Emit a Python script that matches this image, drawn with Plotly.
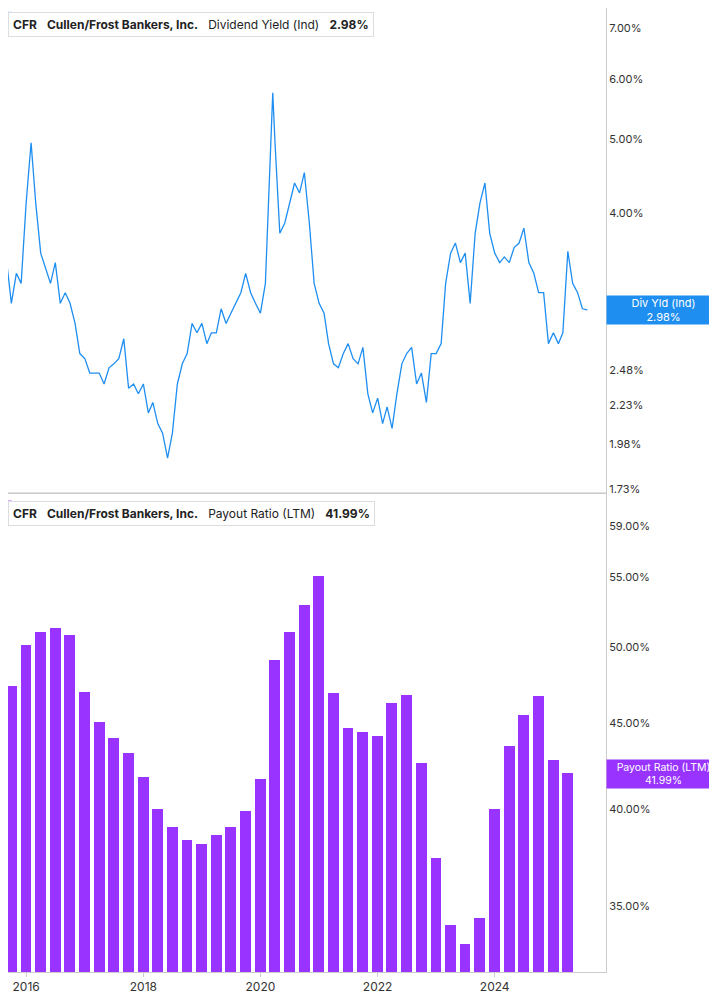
import pandas as pd
import plotly.graph_objects as go
from plotly.subplots import make_subplots
import math

# Dividend yield (%), monthly from 2015-08
yld_start = "2015-08-01"
yld_values = [2.95,3.46,3.04,3.33,3.23,4.12,4.95,4.12,3.54,3.38,3.23,3.44,3.04,3.14,3.04,2.86,2.61,2.57,2.46,2.46,
              2.46,2.38,2.50,2.53,2.57,2.73,2.35,2.38,2.31,2.38,2.18,2.25,2.11,2.05,1.90,2.05,2.38,2.53,2.61,2.86,
              2.78,2.86,2.69,2.78,2.78,2.99,2.86,2.95,3.04,3.14,3.33,3.14,3.04,2.95,3.23,4.80,4.95,3.76,3.88,4.12,
              4.38,4.25,4.52,3.88,3.23,3.04,2.95,2.69,2.53,2.50,2.61,2.69,2.57,2.53,2.66,2.31,2.18,2.28,2.11,2.22,
              2.08,2.31,2.53,2.61,2.66,2.38,2.46,2.25,2.61,2.61,2.69,3.23,3.54,3.65,3.44,3.54,3.04,3.76,4.12,4.38,
              3.76,3.54,3.44,3.50,3.44,3.60,3.65,3.82,3.44,3.33,3.14,3.14,2.69,2.78,2.69,2.78,3.56,3.23,3.14,2.99,2.98]
spike_date = "2020-03-18"
spike_value = 5.76

# Payout ratio (%), quarterly from 2015-09-30
pay_start = "2015-09-30"
pay_values = [47.4,50.1,51.0,51.3,50.8,47.0,45.1,44.1,43.2,41.8,40.0,39.0,38.3,38.1,38.6,39.0,39.9,41.7,49.1,51.0,
              53.0,55.1,46.9,44.7,44.5,44.2,46.3,46.8,42.6,37.4,34.1,33.2,34.4,40.0,43.6,45.5,46.7,42.8,42.0]

yld_ticks = [1.73,1.98,2.23,2.48,4.00,5.00,6.00,7.00,7.39]
pay_ticks = [35,40,45,50,55,59]
x_ticks = ["2016","2018","2020","2022","2024"]

yd = list(pd.date_range(yld_start, periods=len(yld_values), freq="MS"))
ys = list(yld_values)
idx = next(i for i, d in enumerate(yd) if d > pd.Timestamp(spike_date))
yd.insert(idx, pd.Timestamp(spike_date)); ys.insert(idx, spike_value)
pd_dates = pd.date_range(pay_start, periods=len(pay_values), freq="QE")

BLUE = "#1f8ef1"; PURP = "#9933ff"
fig = make_subplots(rows=2, cols=1, shared_xaxes=True, vertical_spacing=0)
fig.add_trace(go.Scatter(x=yd, y=ys, mode="lines", line=dict(color=BLUE, width=1.3), showlegend=False), 1, 1)
fig.add_trace(go.Bar(x=pd_dates, y=pay_values, marker=dict(color=PURP, line=dict(width=0)),
                     width=68*86400000, showlegend=False), 2, 1)
fs = dict(family="Inter, Roboto, sans-serif", size=11, color="#333")
fig.update_layout(width=709, height=997, margin=dict(l=0, r=111, t=0, b=33),
                  plot_bgcolor="white", paper_bgcolor="white", font=fs, bargap=0)
fig.update_yaxes(type="log", side="right", showgrid=False, ticks="", showline=True, linecolor="#ccc", mirror=False)
fig.update_yaxes(row=1, col=1, domain=[0.497, 1], range=[math.log10(1.71), math.log10(7.45)],
                 tickvals=yld_ticks, ticktext=[f"{v:.2f}%" for v in yld_ticks])
fig.update_yaxes(row=2, col=1, domain=[0, 0.497], range=[math.log10(31.95), math.log10(61.8)],
                 tickvals=pay_ticks, ticktext=[f"{v:.2f}%" for v in pay_ticks])
fig.update_xaxes(range=["2015-09-10", "2025-11-25"], showgrid=False, showline=True, linecolor="#ccc")
fig.update_xaxes(row=2, col=1, tickvals=[f"{t}-01-01" for t in x_ticks], ticktext=x_ticks,
                 tickfont=dict(size=12, color="#333"), ticks="outside", ticklen=4, tickcolor="#ccc")
fig.add_shape(type="line", xref="paper", yref="paper", x0=0, x1=1, y0=0.497, y1=0.497, line=dict(color="#ccc", width=1))

def header(y, txt, col):
    fig.add_annotation(xref="paper", yref="paper", x=0.0, y=y, xanchor="left", yanchor="top", align="left",
                       text=txt, showarrow=False, bgcolor="white", bordercolor="#ddd", borderwidth=1, borderpad=4,
                       font=dict(family="Inter, Roboto, sans-serif", size=12, color="#222"))
    fig.add_shape(type="rect", xref="paper", yref="paper", x0=0, x1=0.006, y0=y-0.024, y1=y, fillcolor=col, line_width=0)
header(0.996, "<b>CFR</b>   <b>Cullen/Frost Bankers, Inc.</b>   Dividend Yield (Ind)   <b>2.98%</b>", BLUE)
header(0.489, "<b>CFR</b>   <b>Cullen/Frost Bankers, Inc.</b>   Payout Ratio (LTM)   <b>41.99%</b>", PURP)

fig.add_annotation(xref="paper", yref="y", x=1.0, y=math.log10(2.98), xanchor="left", showarrow=False,
                   text="Div Yld (Ind)<br>2.98%", bgcolor=BLUE, font=dict(color="white", size=11), width=111, height=26)
fig.add_annotation(xref="paper", yref="y2", x=1.0, y=math.log10(41.99), xanchor="left", showarrow=False,
                   text="Payout Ratio (LTM)<br>41.99%", bgcolor=PURP, font=dict(color="white", size=10.5), width=111, height=26)
fig.write_html("out.html")
